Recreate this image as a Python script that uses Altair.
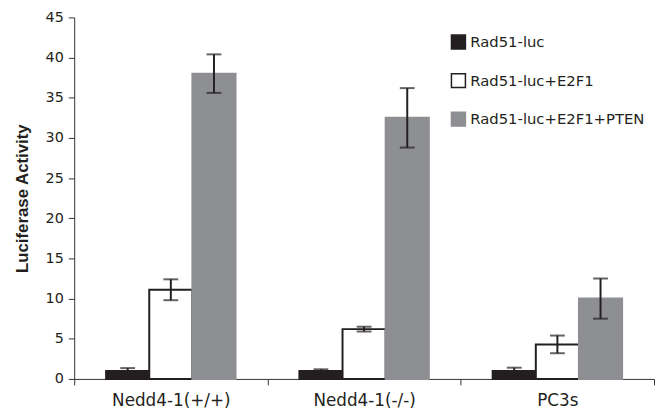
import altair as alt
import pandas as pd

categories = ["Nedd4-1(+/+)", "Nedd4-1(-/-)", "PC3s"]
series = ["Rad51-luc", "Rad51-luc+E2F1", "Rad51-luc+E2F1+PTEN"]
values = {
    "Rad51-luc": [1.0, 1.0, 1.0],
    "Rad51-luc+E2F1": [11.1, 6.2, 4.3],
    "Rad51-luc+E2F1+PTEN": [38.0, 32.5, 10.0],
}
errors = {
    "Rad51-luc": [0.35, 0.2, 0.4],
    "Rad51-luc+E2F1": [1.3, 0.3, 1.1],
    "Rad51-luc+E2F1+PTEN": [2.4, 3.7, 2.5],
}
y_ticks = [0, 5, 10, 15, 20, 25, 30, 35, 40, 45]

rows = []
for s in series:
    for i, c in enumerate(categories):
        rows.append({"cat": c, "series": s, "val": values[s][i], "err": errors[s][i]})
df = pd.DataFrame(rows)

DARK = "#231f20"
GRAY = "#8e8f92"

x_enc = alt.X(
    "cat:N",
    sort=categories,
    scale=alt.Scale(paddingInner=0, paddingOuter=0),
    axis=alt.Axis(
        title=None, labelAngle=0, tickBand="extent", labelFont="DejaVu Sans",
        labelFontSize=17, labelColor=DARK, labelPadding=8, tickSize=6,
        domainColor="#333333", tickColor="#333333", grid=False,
    ),
)
xoff = alt.XOffset(
    "series:N", sort=series,
    scale=alt.Scale(paddingInner=0, paddingOuter=0.74),
)

bars = alt.Chart(df).mark_bar(strokeWidth=2).encode(
    x=x_enc,
    xOffset=xoff,
    y=alt.Y(
        "val:Q",
        scale=alt.Scale(domain=[0, 45], nice=False),
        axis=alt.Axis(
            title="Luciferase Activity", values=y_ticks, grid=False,
            labelFont="DejaVu Sans", labelFontSize=14.5, labelColor=DARK,
            tickSize=6, labelPadding=5, domainColor="#333333", tickColor="#333333",
            titleFont="Liberation Sans", titleFontSize=17, titleFontWeight="bold",
            titleColor=DARK, titlePadding=14,
        ),
    ),
    fill=alt.Fill(
        "series:N", sort=series,
        scale=alt.Scale(domain=series, range=[DARK, "#ffffff", GRAY]),
        legend=alt.Legend(
            title=None, orient="none", legendX=381, legendY=17,
            symbolType="square", symbolSize=200, symbolStrokeWidth=1.5,
            labelFont="DejaVu Sans", labelFontSize=15, labelColor=DARK,
            rowPadding=17, labelOffset=4, labelLimit=0,
        ),
    ),
    stroke=alt.Stroke(
        "series:N", sort=series,
        scale=alt.Scale(domain=series, range=[DARK, DARK, GRAY]),
        legend=None,
    ),
)

base = alt.Chart(df).transform_calculate(
    lo="datum.val - datum.err", hi="datum.val + datum.err"
)
x_plain = alt.X("cat:N", sort=categories)

rule = base.mark_rule(color=DARK, strokeWidth=2).encode(
    x=x_plain, xOffset=xoff, y="lo:Q", y2="hi:Q"
)
cap_lo = base.mark_tick(color=DARK, thickness=2, size=15, orient="horizontal").encode(
    x=x_plain, xOffset=xoff, y="lo:Q"
)
cap_hi = base.mark_tick(color=DARK, thickness=2, size=15, orient="horizontal").encode(
    x=x_plain, xOffset=xoff, y="hi:Q"
)

chart = alt.layer(bars, rule, cap_lo, cap_hi).properties(
    width=587, height=366,
    autosize=alt.AutoSizeParams(type="none"),
    padding={"left": 67, "top": 7, "right": 2, "bottom": 35},
).configure_view(stroke=None).configure_tick(bandSize=15)

chart.save("out.html", embed_options={"renderer": "svg", "actions": False})
